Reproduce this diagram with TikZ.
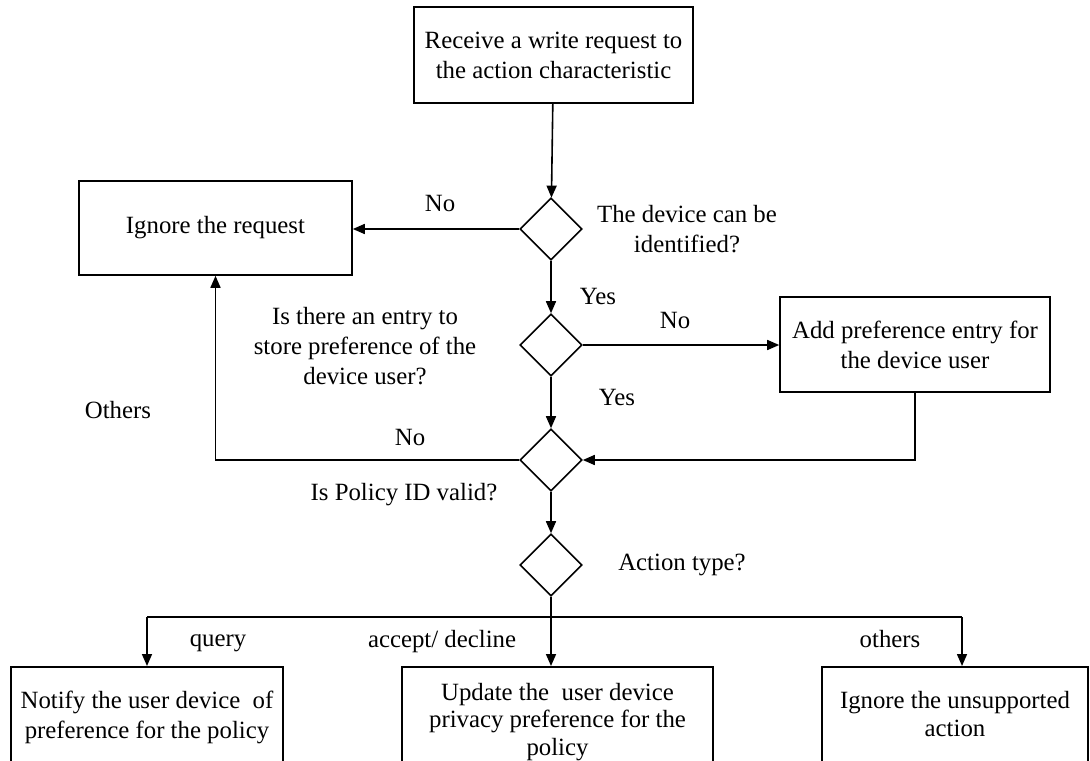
\documentclass[tikz,border=0pt]{standalone}
\usepackage{fontspec}
\setmainfont{Liberation Serif}
\usetikzlibrary{shapes.geometric,arrows.meta}

\begin{document}
\begin{tikzpicture}[x=0.5pt,y=-0.5pt,
  every node/.style={font=\fontsize{12.4}{15}\selectfont},
  box/.style={draw,line width=0.8pt,align=center,inner sep=0pt},
  cutbox/.style={box,anchor=north,inner sep=0pt},
  decision/.style={draw,diamond,line width=0.8pt,minimum width=31pt,minimum height=31pt,inner sep=0pt},
  lbl/.style={align=center,inner sep=0pt},
  arr/.style={line width=0.8pt,-{Triangle[length=6pt,width=5pt]}}]
  \useasboundingbox (0,0) rectangle (1090,760);
  % boxes
  \node[box,minimum width=139.5pt,minimum height=48pt] (recv) at (553.5,55) {Receive a write request to\\the action characteristic};
  \node[box,minimum width=136.5pt,minimum height=47pt] (ignore) at (215.5,228) {Ignore the request};
  \node[box,minimum width=135pt,minimum height=47.5pt] (addpref) at (915,344.5) {Add preference entry for\\the device user};
  \node[cutbox,minimum width=136pt] (notify) at (147,666) {\rule{0pt}{21pt}Notify the user device\ \ of\\preference for the policy\rule[-20pt]{0pt}{0pt}};
  \node[cutbox,minimum width=155.5pt] (update) at (557.5,666) {\rule{0pt}{16.75pt}Update the\ \ user device\\[-1.25pt]privacy preference for the\\[-1.25pt]policy\rule[-20pt]{0pt}{0pt}};
  \node[cutbox,minimum width=133pt] (unsup) at (955,666) {\rule{0pt}{20.75pt}Ignore the unsupported\\[-1pt]action\rule[-20pt]{0pt}{0pt}};
  % decisions
  \node[decision] (ident) at (551,229) {};
  \node[decision] (entry) at (551,345) {};
  \node[decision] (valid) at (551,460) {};
  \node[decision] (atype) at (551,565) {};
  % labels
  \node[lbl] (lident) at (687,229) {The device can be\\identified?};
  \node[lbl] (lentry) at (365,346) {Is there an entry to\\store preference of the\\device user?};
  \node[lbl] (lvalid) at (404,495) {Is Policy ID valid?};
  \node[lbl] (latype) at (682,565) {Action type?};
  \node[lbl] (no1) at (440,203) {No};
  \node[lbl] (yes1) at (598,296) {Yes};
  \node[lbl] (no2) at (675,320) {No};
  \node[lbl] (yes2) at (617,397) {Yes};
  \node[lbl] (no3) at (410,437) {No};
  \node[lbl] (others) at (118,410) {Others};
  \node[lbl] (lquery) at (218,643) {query};
  \node[lbl] (laccept) at (442,642) {accept/ decline};
  \node[lbl] (lothers) at (890,639) {others};
  % connectors
  \coordinate (bl) at (147,617);
  \coordinate (br) at (962,617);
  \draw[arr] (recv) -- (ident);
  \draw[arr] (ident.west) -- (ident.west -| ignore.east);
  \draw[arr] (ident) -- (entry);
  \draw[arr] (entry) -- (addpref.west |- entry);
  \draw[arr] (addpref.south) |- (valid.east);
  \draw[arr] (entry) -- (valid);
  \draw[arr] (valid.west) -| (ignore.south);
  \draw[arr] (valid) -- (atype);
  \draw[arr] (atype) -- (atype |- update.north);
  \draw[line width=0.8pt] (bl) -- (br);
  \draw[arr] (bl) -- (bl |- notify.north);
  \draw[arr] (br) -- (br |- unsup.north);
\end{tikzpicture}
\end{document}
